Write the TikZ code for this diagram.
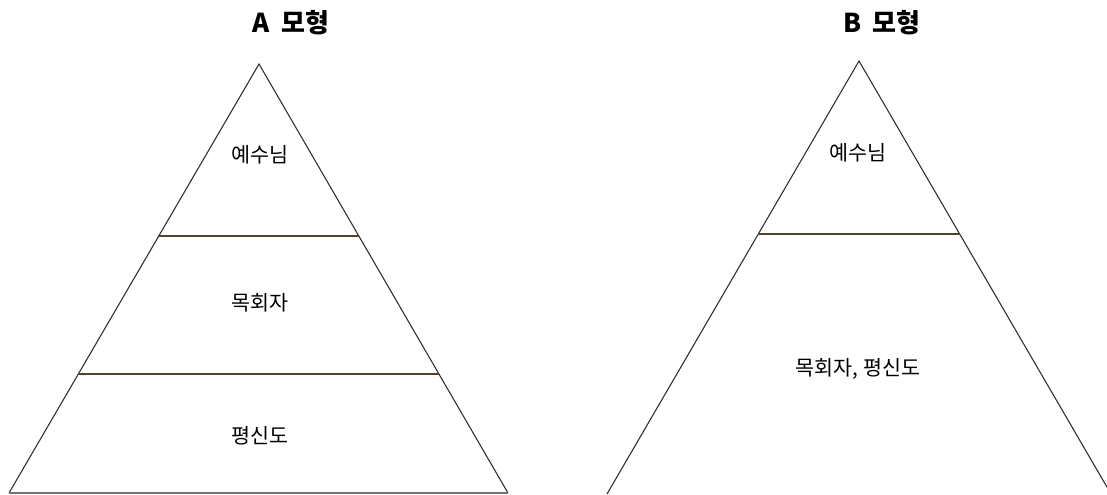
\documentclass[tikz,border=0pt]{standalone}
\usepackage{fontspec}
\newfontfamily\kr{Noto Sans CJK KR}
\usetikzlibrary{calc}

\begin{document}
\begin{tikzpicture}[x=0.75pt,y=-0.75pt]

   %my colors
\definecolor{layerbrown}{RGB}{84,64,46}
\definecolor{edgegray}{RGB}{45,45,45}
\definecolor{basegray}{RGB}{115,115,115}

\tikzset{
  side/.style={edgegray, line width=0.8pt},
  layer/.style={layerbrown, line width=1.6pt},
  tag/.style={font=\kr\fontsize{15.5}{18}\selectfont},
  heading/.style={font=\kr\bfseries\fontsize{19.5}{22}\selectfont}
}

    \useasboundingbox (0,0) rectangle (1107,494);

    % Model A: three layers
    \coordinate (apexA) at (259,64);
    \coordinate (leftA) at (9,493);
    \coordinate (rightA) at (508,493);
    \draw[side] (leftA) -- (apexA) -- (rightA);
    \draw[basegray, line width=1.1pt] (leftA) -- (rightA);
    \draw[layer] ($(apexA)!0.401!(leftA)$) -- ($(apexA)!0.401!(rightA)$);
    \draw[layer] ($(apexA)!0.723!(leftA)$) -- ($(apexA)!0.723!(rightA)$);

    \node[heading] (titleA) at (291,23) {A\hspace{0.45em}모형};
    \node[tag] (a1) at (260,155) {예수님};
    \node[tag] (a2) at (260,303) {목회자};
    \node[tag] (a3) at (260,436) {평신도};

    % Model B: two layers, base below the frame
    \coordinate (apexB) at (859,61);
    \coordinate (leftB) at (607,494);
    \coordinate (rightB) at (1111,494);
    \draw[side] (leftB) -- (apexB) -- (rightB);
    \draw[layer] ($(apexB)!0.3995!(leftB)$) -- ($(apexB)!0.3995!(rightB)$);

    \node[heading] (titleB) at (882,23) {B\hspace{0.45em}모형};
    \node[tag] (b1) at (858,153) {예수님};
    \node[tag] (b2) at (858,369) {목회자, 평신도};

\end{tikzpicture}
\end{document}
